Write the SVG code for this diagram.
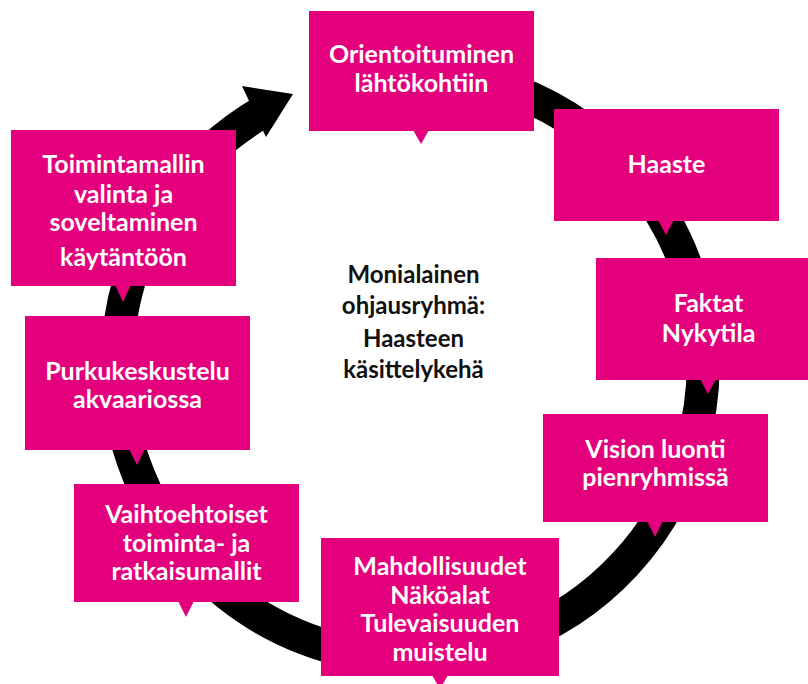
<svg xmlns="http://www.w3.org/2000/svg" width="808" height="684" viewBox="0 0 808 684">
<style>
.box{fill:#E4007C}
.lbl{font-family:Lato,"Open Sans","Liberation Sans",sans-serif;font-weight:700;font-size:25px;fill:#ffffff;text-anchor:middle}
.ctr{font-family:Lato,"Open Sans","Liberation Sans",sans-serif;font-weight:700;font-size:24px;fill:#111111;text-anchor:middle}
</style>
<rect width="808" height="684" fill="#ffffff"/>
<g id="connectors">
<path d="M 384.5 73.1 A 293 293 0 1 1 263.5 111.3" fill="none" stroke="#000" stroke-width="33"/>
<polygon points="242,86 293,94 266,137" fill="#000"/>
</g>
<g id="n1">
<rect class="box" x="309" y="11" width="225" height="120"/>
<polygon class="box" points="413,130 429,130 421,144"/>
<text class="lbl" x="421.5" y="63">Orientoituminen</text>
<text class="lbl" x="421.5" y="92">lähtökohtiin</text>
</g>
<g id="n2">
<rect class="box" x="554" y="109" width="225" height="112"/>
<polygon class="box" points="658,220 674,220 666,235"/>
<text class="lbl" x="666.5" y="173">Haaste</text>
</g>
<g id="n3">
<rect class="box" x="596" y="258" width="225" height="122"/>
<polygon class="box" points="700,379 716,379 708,394"/>
<text class="lbl" x="708.5" y="312">Faktat</text>
<text class="lbl" x="708.5" y="342">Nykytila</text>
</g>
<g id="n4">
<rect class="box" x="543" y="414" width="225" height="108"/>
<polygon class="box" points="647,521 663,521 655,537"/>
<text class="lbl" x="655.5" y="458">Vision luonti</text>
<text class="lbl" x="655.5" y="486">pienryhmissä</text>
</g>
<g id="n5">
<rect class="box" x="321" y="538" width="238" height="138"/>
<polygon class="box" points="432,675 448,675 440,689"/>
<text class="lbl" x="440" y="575">Mahdollisuudet</text>
<text class="lbl" x="440" y="604">Näköalat</text>
<text class="lbl" x="440" y="632">Tulevaisuuden</text>
<text class="lbl" x="440" y="661">muistelu</text>
</g>
<g id="n6">
<rect class="box" x="74" y="484" width="225" height="118"/>
<polygon class="box" points="178,601 194,601 186,617"/>
<text class="lbl" x="186.5" y="523">Vaihtoehtoiset</text>
<text class="lbl" x="186.5" y="552">toiminta- ja</text>
<text class="lbl" x="186.5" y="580">ratkaisumallit</text>
</g>
<g id="n7">
<rect class="box" x="11" y="130" width="225" height="156"/>
<polygon class="box" points="115,285 131,285 123,302"/>
<text class="lbl" x="123.5" y="173">Toimintamallin</text>
<text class="lbl" x="123.5" y="203">valinta ja</text>
<text class="lbl" x="123.5" y="231">soveltaminen</text>
<text class="lbl" x="123.5" y="266">käytäntöön</text>
</g>
<g id="n8">
<rect class="box" x="25" y="316" width="225" height="134"/>
<polygon class="box" points="129,449 145,449 137,465"/>
<text class="lbl" x="137.5" y="380">Purkukeskustelu</text>
<text class="lbl" x="137.5" y="408">akvaariossa</text>
</g>
<g id="center">
<text class="ctr" x="413.5" y="283">Monialainen</text>
<text class="ctr" x="413.5" y="314">ohjausryhmä:</text>
<text class="ctr" x="413.5" y="347">Haasteen</text>
<text class="ctr" x="413.5" y="378">käsittelykehä</text>
</g>
</svg>
